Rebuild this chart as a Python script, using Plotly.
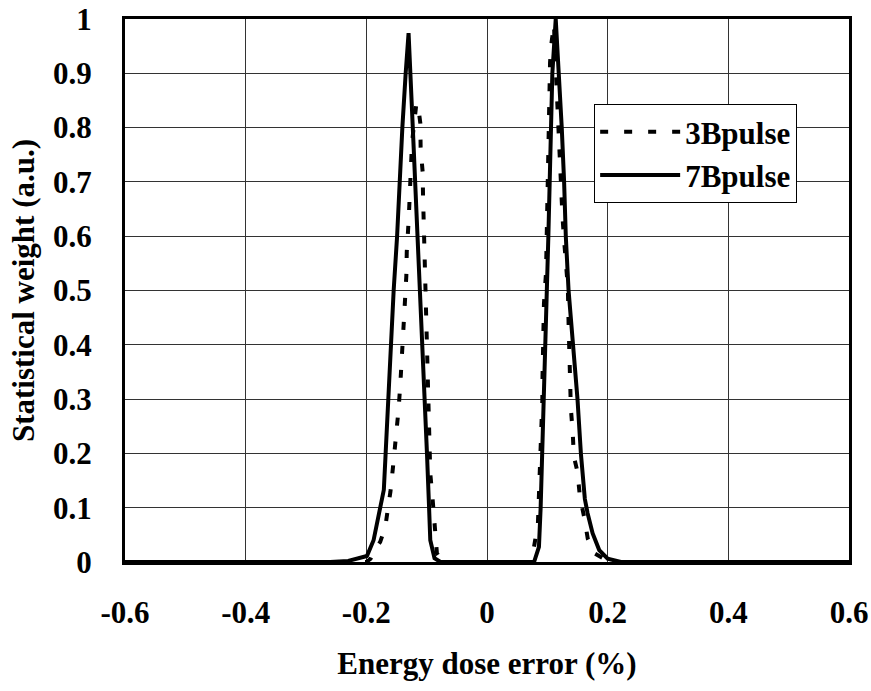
import plotly.graph_objects as go

# 3Bpulse (dotted)
x3 = [-0.600, -0.200, -0.193, -0.188, -0.177, -0.1685, -0.163, -0.160, -0.1558, -0.152, -0.149,
      -0.1464, -0.1436, -0.141, -0.137, -0.1337, -0.1330, -0.1298, -0.127, -0.126, -0.1243,
      -0.120, -0.117, -0.113, -0.1105, -0.1100, -0.1066, -0.1060, -0.1050, -0.1039, -0.1030,
      -0.102, -0.1006, -0.0983, -0.0978, -0.0975, -0.095, -0.0945, -0.094, -0.090, -0.0856,
      -0.083, -0.077, -0.073,
      0.072, 0.078, 0.0844, 0.0861, 0.0872, 0.0889, 0.0906, 0.0917, 0.0920, 0.0928, 0.0933,
      0.0944, 0.0978, 0.0983, 0.0989, 0.1000, 0.1010, 0.1020, 0.1028, 0.1039, 0.1045, 0.1070,
      0.1110, 0.1139, 0.1156, 0.1183, 0.1206, 0.1222, 0.1233, 0.1250, 0.1278, 0.1311, 0.1340,
      0.1352, 0.1365, 0.1390, 0.1420, 0.1440, 0.1500, 0.1540, 0.1610, 0.1670, 0.1780, 0.1940,
      0.2000, 0.600]
y3 = [0, 0, 0.006, 0.019, 0.037, 0.065, 0.108, 0.130, 0.175, 0.219, 0.240,
      0.283, 0.329, 0.394, 0.460, 0.527, 0.571, 0.630, 0.683, 0.729, 0.772,
      0.825, 0.845, 0.830, 0.808, 0.762, 0.718, 0.673, 0.630, 0.584, 0.541,
      0.501, 0.455, 0.387, 0.338, 0.295, 0.249, 0.206, 0.163, 0.114, 0.062,
      0.016, 0.006, 0,
      0, 0.028, 0.071, 0.117, 0.163, 0.209, 0.255, 0.298, 0.341, 0.387, 0.430,
      0.476, 0.533, 0.570, 0.619, 0.662, 0.708, 0.754, 0.830, 0.876, 0.920, 0.957,
      0.990, 0.909, 0.8625, 0.816, 0.770, 0.727, 0.681, 0.638, 0.592, 0.549, 0.506,
      0.440, 0.375, 0.283, 0.240, 0.194, 0.166, 0.120, 0.083, 0.043, 0.016, 0.006,
      0, 0]

# 7Bpulse (solid)
x7 = [-0.600, -0.260, -0.230, -0.199, -0.188, -0.176, -0.171, -0.168, -0.164, -0.159, -0.1547,
      -0.149, -0.1453, -0.1403, -0.1348, -0.130, -0.123, -0.1188, -0.1155, -0.1116, -0.1077,
      -0.103, -0.0995, -0.096, -0.094, -0.087, -0.077,
      0.078, 0.0861, 0.0889, 0.0917, 0.0944, 0.0972, 0.1000, 0.1017, 0.1039, 0.1056, 0.1083,
      0.1139, 0.1194, 0.1239, 0.1278, 0.1306, 0.1352, 0.1433, 0.1500, 0.1556, 0.1622, 0.1667,
      0.1750, 0.1860, 0.2000, 0.2220, 0.600]
y7 = [0, 0, 0.002, 0.011, 0.040, 0.100, 0.133, 0.200, 0.300, 0.400, 0.500,
      0.600, 0.700, 0.800, 0.900, 0.974, 0.800, 0.700, 0.600, 0.500, 0.400,
      0.300, 0.200, 0.100, 0.040, 0.007, 0,
      0, 0.028, 0.100, 0.200, 0.300, 0.400, 0.500, 0.600, 0.700, 0.800, 0.900,
      1.000, 0.900, 0.800, 0.700, 0.600, 0.500, 0.400, 0.300, 0.200, 0.116, 0.090,
      0.053, 0.022, 0.006, 0, 0]

xtick_vals = [-0.6, -0.4, -0.2, 0, 0.2, 0.4, 0.6]
xtick_text = ["-0.6", "-0.4", "-0.2", "0", "0.2", "0.4", "0.6"]
ytick_vals = [0, 0.1, 0.2, 0.3, 0.4, 0.5, 0.6, 0.7, 0.8, 0.9, 1]
ytick_text = ["0", "0.1", "0.2", "0.3", "0.4", "0.5", "0.6", "0.7", "0.8", "0.9", "1"]

FONT = "'Liberation Serif', 'Times New Roman', 'DejaVu Serif', serif"

fig = go.Figure()
fig.add_trace(go.Scatter(x=x3, y=y3, mode="lines", name="3Bpulse", legendgroup="a",
                         line=dict(color="black", width=4, dash="8px,16px")))
fig.add_trace(go.Scatter(x=x7, y=y7, mode="lines", name="7Bpulse", legendgroup="b",
                         line=dict(color="black", width=4)))

fig.update_layout(
    width=871, height=691,
    margin=dict(l=125, r=22, t=19, b=129, autoexpand=False),
    plot_bgcolor="white", paper_bgcolor="white",
    font=dict(family=FONT, color="black"),
    legend=dict(x=0.648, y=0.8435, xanchor="left", yanchor="top",
                bgcolor="white", bordercolor="black", borderwidth=1,
                font=dict(family=FONT, size=31, color="black", weight="bold"),
                itemwidth=80, tracegroupgap=8, traceorder="normal"),
    xaxis=dict(range=[-0.6, 0.6], tickvals=xtick_vals, ticktext=xtick_text,
               showgrid=True, gridcolor="#333333", gridwidth=1, zeroline=False,
               showline=True, linecolor="black", linewidth=3, mirror=True,
               ticks="", ticklabelstandoff=21, automargin=False,
               tickfont=dict(family=FONT, size=31, weight="bold"),
               title=dict(text="Energy dose error (%)", standoff=24,
                          font=dict(family=FONT, size=31, weight="bold"))),
    yaxis=dict(range=[0, 1], tickvals=ytick_vals, ticktext=ytick_text,
               showgrid=True, gridcolor="#333333", gridwidth=1, zeroline=False,
               showline=True, linecolor="black", linewidth=3, mirror=True,
               ticks="", ticklabelstandoff=24, automargin=False,
               tickfont=dict(family=FONT, size=31, weight="bold"),
               title=dict(text="Statistical weight (a.u.)", standoff=10,
                          font=dict(family=FONT, size=31, weight="bold"))),
)

fig.write_html("out.html")
